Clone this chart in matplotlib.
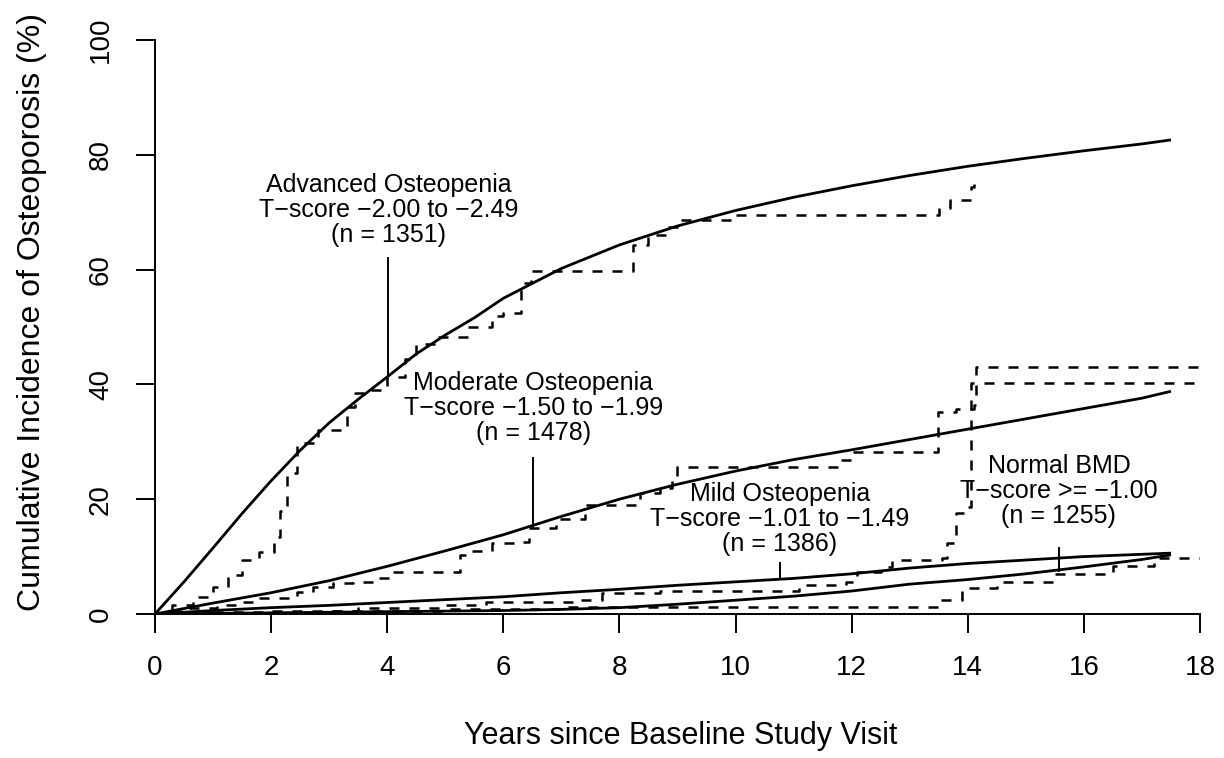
import matplotlib
matplotlib.use("Agg")
import matplotlib.pyplot as plt

plt.rcParams['font.family'] = ['Liberation Sans', 'DejaVu Sans']

# fitted (smooth) cumulative incidence curves, % by year
fit_t = [0, 1, 2, 3, 4, 5, 6, 7, 8, 9, 10, 11, 12, 13, 14, 15, 16, 17, 17.5]
adv_fit_t = [0, 0.5, 1, 1.5, 2, 2.5, 3, 3.5, 4, 4.5, 5, 5.5, 6, 7, 8, 9, 10,
             11, 12, 13, 14, 15, 16, 17, 17.5]
adv_fit = [0, 5.6, 11.5, 17.5, 23.2, 28.5, 33.3, 37.4, 41.3, 45.3, 48.6, 51.6,
           55.0, 60.2, 64.3, 67.6, 70.3, 72.6, 74.6, 76.4, 78.0, 79.4, 80.7,
           81.9, 82.6]
mod_fit = [0, 1.9, 3.7, 5.8, 8.3, 11.0, 13.8, 17.0, 20.0, 22.6, 24.9, 26.9,
           28.6, 30.4, 32.2, 34.0, 35.8, 37.6, 38.8]
mild_fit = [0, 0.6, 1.1, 1.5, 2.0, 2.5, 3.0, 3.7, 4.3, 5.0, 5.6, 6.2, 7.0,
            8.0, 8.8, 9.4, 10.0, 10.4, 10.6]
norm_fit = [0, 0.1, 0.2, 0.3, 0.4, 0.5, 0.6, 0.8, 1.1, 1.7, 2.4, 3.1, 4.0,
            5.2, 6.0, 7.0, 8.2, 9.5, 10.3]

# observed (step) curves
adv_km_t = [0, 0.3, 0.65, 1.0, 1.25, 1.5, 1.8, 2.05, 2.15, 2.27, 2.45, 2.8,
            3.3, 3.45, 3.6, 4.0, 4.3, 4.5, 4.8, 5.4, 5.8, 6.0, 6.3, 6.47,
            8.24, 8.5, 8.8, 9.05, 10.0, 13.5, 13.7, 14.05, 14.1]
adv_km = [0, 1.6, 3.0, 4.7, 6.8, 9.4, 10.8, 13.4, 18.0, 24.5, 29.8, 32.0,
          36.0, 38.5, 39.0, 41.3, 44.5, 47.0, 48.3, 50.0, 52.0, 52.5, 57.6,
          59.8, 64.3, 66.0, 67.4, 68.6, 69.5, 70.7, 72.1, 74.4, 75.0]
mod_km_t = [0, 0.3, 0.6, 1.07, 1.47, 1.8, 2.45, 2.72, 3.07, 3.41, 3.76, 4.05,
            5.26, 5.4, 5.8, 6.2, 6.45, 6.9, 7.4, 8.36, 8.7, 8.9, 9.0, 11.8,
            12.0, 13.48, 13.8, 14.1, 14.14, 18.0]
mod_km = [0, 0.5, 1.0, 1.6, 2.1, 2.8, 3.8, 4.7, 5.4, 5.6, 6.3, 7.3, 10.3,
          11.0, 12.4, 12.6, 15.0, 16.5, 19.0, 21.0, 22.0, 24.0, 25.6, 26.8,
          28.2, 35.2, 35.7, 36.4, 43.0, 43.0]
mild_km_t = [0, 1.0, 2.0, 3.5, 4.9, 5.7, 7.3, 7.7, 8.7, 11.1, 11.9, 12.1,
             12.5, 12.7, 13.55, 13.65, 13.8, 14.0, 14.05, 17.97]
mild_km = [0, 0.3, 0.6, 1.0, 1.6, 2.1, 2.4, 3.7, 4.0, 5.0, 5.6, 7.3, 8.2,
           9.4, 9.8, 12.4, 17.6, 18.6, 40.2, 40.2]
norm_km_t = [0, 1.0, 3.0, 5.0, 7.0, 13.5, 13.9, 14.5, 15.5, 16.5, 17.2, 18.0]
norm_km = [0, 0.2, 0.5, 0.8, 1.2, 2.4, 4.5, 5.5, 7.0, 8.4, 9.8, 9.8]

labels = ["Advanced Osteopenia\nT\u2212score \u22122.00 to \u22122.49\n(n = 1351)",
          "Moderate Osteopenia\nT\u2212score \u22121.50 to \u22121.99\n(n = 1478)",
          "Mild Osteopenia\nT\u2212score \u22121.01 to \u22121.49\n(n = 1386)",
          "Normal BMD\nT\u2212score >= \u22121.00\n(n = 1255)"]

fig = plt.figure(figsize=(12.24, 7.58), dpi=100)
ax = fig.add_axes([0.1266, 0.19, 0.8538, 0.7572])

for y in [adv_fit, mod_fit, mild_fit, norm_fit]:
    t = adv_fit_t if y is adv_fit else fit_t
    ax.plot(t, y, color='black', lw=2.0, solid_capstyle='butt')

for t, y in [(adv_km_t, adv_km), (mod_km_t, mod_km),
             (mild_km_t, mild_km), (norm_km_t, norm_km)]:
    ax.plot(t, y, color='black', lw=1.8, drawstyle='steps-post',
            linestyle=(0, (4, 4)))

# labels with pointer lines: (x, text bottom, pointer top, pointer bottom)
placement = [(4.02, 64.0, 62.0, 41.5),
             (6.52, 29.4, 27.2, 15.2),
             (10.76, 10.1, 8.9, 6.3),
             (15.57, 15.0, 11.5, 7.5)]
for (x, yt, y0, y1), txt in zip(placement, labels):
    ax.text(x, yt, txt, ha='center', va='bottom', fontsize=18,
            linespacing=1.05)
    ax.plot([x, x], [y0, y1], color='black', lw=1.4)

ax.set_xlim(0, 18)
ax.set_ylim(0, 100)
ax.set_xticks(range(0, 19, 2))
ax.set_yticks(range(0, 101, 20))
for s in ['top', 'right']:
    ax.spines[s].set_visible(False)
for s in ['left', 'bottom']:
    ax.spines[s].set_linewidth(1.4)
ax.tick_params(direction='out', length=13.5, width=1.4, labelsize=20,
               pad=16)
ax.tick_params(axis='y', labelrotation=90)
for lab in ax.get_yticklabels():
    lab.set_verticalalignment('center')

ax.set_xlabel("Years since Baseline Study Visit", fontsize=22)
ax.set_ylabel("Cumulative Incidence of Osteoporosis (%)", fontsize=23)
ax.xaxis.set_label_coords(0.503, -0.186)
ax.yaxis.set_label_coords(-0.103, 0.526)

fig.savefig("out.png", dpi=100)
